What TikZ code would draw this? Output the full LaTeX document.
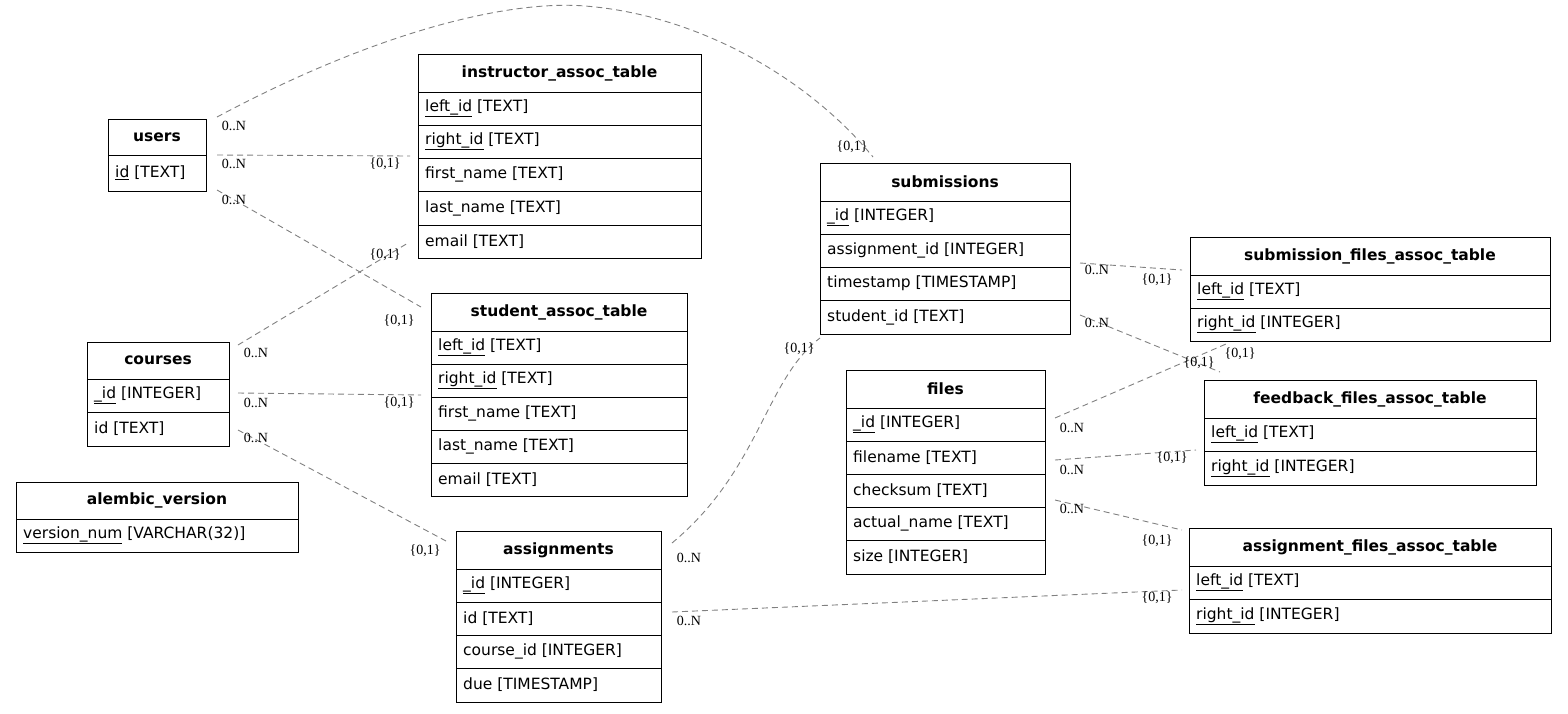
\documentclass[tikz,border=0pt]{standalone}
\usepackage{fontspec}
\setmainfont{DejaVu Sans}
\newfontfamily\lblfont{Liberation Serif}
\begin{document}
\begin{tikzpicture}[x=1pt,y=-1pt,
  cell/.style={draw,line width=1pt,inner sep=0pt,outer sep=0pt,font=\fontsize{15.5}{18}\selectfont},
  txt/.style={anchor=west,inner sep=0pt,font=\fontsize{15.5}{18}\selectfont},
  conn/.style={draw=gray,dashed,line width=0.9pt,dash pattern=on 6pt off 4pt},
  lbl/.style={inner sep=0pt,font=\lblfont\fontsize{14}{16}\selectfont}]
\useasboundingbox (0,0) rectangle (1568,713);
\newcommand\hdr[6]{\node[cell,minimum width={#4-#2},minimum height={#5-#3},anchor=north west] (#1) at (#2,#3) {\bfseries #6};}
\newcommand\rw[6]{\node[cell,minimum width={#4-#2},minimum height={#5-#3},anchor=north west] (#1) at (#2,#3) {}; \node[txt] (#1t) at ([xshift=7pt]#1.west) {#6};}
% users
\hdr{u}{108}{119}{206}{155}{users}
\rw{u1}{108}{155}{206}{191}{\underline{id} [TEXT]}
% instructor
\hdr{ia}{418}{54}{701}{92}{instructor\_assoc\_table}
\rw{ia1}{418}{92}{701}{125}{\underline{left\_id} [TEXT]}
\rw{ia2}{418}{125}{701}{158}{\underline{right\_id} [TEXT]}
\rw{ia3}{418}{158}{701}{191}{first\_name [TEXT]}
\rw{ia4}{418}{191}{701}{225}{last\_name [TEXT]}
\rw{ia5}{418}{225}{701}{258}{email [TEXT]}
% student
\hdr{sa}{431}{293}{687}{331}{student\_assoc\_table}
\rw{sa1}{431}{331}{687}{364}{\underline{left\_id} [TEXT]}
\rw{sa2}{431}{364}{687}{397}{\underline{right\_id} [TEXT]}
\rw{sa3}{431}{397}{687}{430}{first\_name [TEXT]}
\rw{sa4}{431}{430}{687}{463}{last\_name [TEXT]}
\rw{sa5}{431}{463}{687}{496}{email [TEXT]}
% courses
\hdr{c}{87}{342}{229}{379}{courses}
\rw{c1}{87}{379}{229}{412}{\underline{\_id} [INTEGER]}
\rw{c2}{87}{412}{229}{446}{id [TEXT]}
% alembic
\hdr{al}{16}{482}{298}{519}{alembic\_version}
\rw{al1}{16}{519}{298}{552}{\underline{version\_num} [VARCHAR(32)]}
% assignments
\hdr{as}{456}{531}{661}{569}{assignments}
\rw{as1}{456}{569}{661}{602}{\underline{\_id} [INTEGER]}
\rw{as2}{456}{602}{661}{635}{id [TEXT]}
\rw{as3}{456}{635}{661}{668}{course\_id [INTEGER]}
\rw{as4}{456}{668}{661}{702}{due [TIMESTAMP]}
% submissions
\hdr{s}{820}{163}{1070}{201}{submissions}
\rw{s1}{820}{201}{1070}{234}{\underline{\_id} [INTEGER]}
\rw{s2}{820}{234}{1070}{267}{assignment\_id [INTEGER]}
\rw{s3}{820}{267}{1070}{300}{timestamp [TIMESTAMP]}
\rw{s4}{820}{300}{1070}{334}{student\_id [TEXT]}
% files
\hdr{f}{846}{370}{1045}{408}{files}
\rw{f1}{846}{408}{1045}{441}{\underline{\_id} [INTEGER]}
\rw{f2}{846}{441}{1045}{474}{filename [TEXT]}
\rw{f3}{846}{474}{1045}{507}{checksum [TEXT]}
\rw{f4}{846}{507}{1045}{540}{actual\_name [TEXT]}
\rw{f5}{846}{540}{1045}{574}{size [INTEGER]}
% submission files
\hdr{sf}{1190}{237}{1550}{275}{submission\_files\_assoc\_table}
\rw{sf1}{1190}{275}{1550}{308}{\underline{left\_id} [TEXT]}
\rw{sf2}{1190}{308}{1550}{341}{\underline{right\_id} [INTEGER]}
% feedback files
\hdr{ff}{1204}{380}{1536}{418}{feedback\_files\_assoc\_table}
\rw{ff1}{1204}{418}{1536}{451}{\underline{left\_id} [TEXT]}
\rw{ff2}{1204}{451}{1536}{485}{\underline{right\_id} [INTEGER]}
% assignment files
\hdr{af}{1189}{528}{1551}{566}{assignment\_files\_assoc\_table}
\rw{af1}{1189}{566}{1551}{599}{\underline{left\_id} [TEXT]}
\rw{af2}{1189}{599}{1551}{633}{\underline{right\_id} [INTEGER]}

% connector endpoints
\coordinate (e1a) at (217,117); \coordinate (e1b) at (873,157);
\coordinate (e2a) at (217,155); \coordinate (e2b) at (410,156);
\coordinate (e3a) at (217,190); \coordinate (e3b) at (421,307);
\coordinate (e4a) at (238,345); \coordinate (e4b) at (408,243);
\coordinate (e5a) at (238,393); \coordinate (e5b) at (421,395);
\coordinate (e6a) at (238,430); \coordinate (e6b) at (446,541);
\coordinate (e7a) at (672,543); \coordinate (e7b) at (820,338);
\coordinate (e8a) at (672,612); \coordinate (e8b) at (1182,590);
\coordinate (e9a) at (1080,263); \coordinate (e9b) at (1182,270);
\coordinate (e10a) at (1080,315); \coordinate (e10b) at (1220,372);
\coordinate (e11a) at (1055,418); \coordinate (e11b) at (1226,344);
\coordinate (e12a) at (1055,460); \coordinate (e12b) at (1196,450);
\coordinate (e13a) at (1055,500); \coordinate (e13b) at (1182,530);

\draw[conn] (e1a) .. controls (380,30) and (510,0) .. (585,6) .. controls (700,15) and (810,80) .. (e1b);
\draw[conn] (e2a) -- (e2b);
\draw[conn] (e3a) -- (e3b);
\draw[conn] (e4a) -- (e4b);
\draw[conn] (e5a) -- (e5b);
\draw[conn] (e6a) -- (e6b);
\draw[conn] (e7a) .. controls (760,470) and (765,380) .. (e7b);
\draw[conn] (e8a) -- (e8b);
\draw[conn] (e9a) -- (e9b);
\draw[conn] (e10a) -- (e10b);
\draw[conn] (e11a) -- (e11b);
\draw[conn] (e12a) -- (e12b);
\draw[conn] (e13a) -- (e13b);

% labels
\node[lbl] (l1a) at (234,126) {0..N};  \node[lbl] (l1b) at (852,147) {\{0,1\}};
\node[lbl] (l2a) at (234,164) {0..N};  \node[lbl] (l2b) at (385,164) {\{0,1\}};
\node[lbl] (l3a) at (234,200) {0..N};  \node[lbl] (l3b) at (399,321) {\{0,1\}};
\node[lbl] (l4a) at (256,353) {0..N};  \node[lbl] (l4b) at (385,255) {\{0,1\}};
\node[lbl] (l5a) at (256,403) {0..N};  \node[lbl] (l5b) at (399,403) {\{0,1\}};
\node[lbl] (l6a) at (256,438) {0..N};  \node[lbl] (l6b) at (425,551) {\{0,1\}};
\node[lbl] (l7a) at (689,558) {0..N};  \node[lbl] (l7b) at (799,349) {\{0,1\}};
\node[lbl] (l8a) at (689,621) {0..N};  \node[lbl] (l8b) at (1157,598) {\{0,1\}};
\node[lbl] (l9a) at (1097,270) {0..N}; \node[lbl] (l9b) at (1157,280) {\{0,1\}};
\node[lbl] (l10a) at (1097,323) {0..N}; \node[lbl] (l10b) at (1199,363) {\{0,1\}};
\node[lbl] (l11a) at (1072,428) {0..N}; \node[lbl] (l11b) at (1240,354) {\{0,1\}};
\node[lbl] (l12a) at (1072,470) {0..N}; \node[lbl] (l12b) at (1172,458) {\{0,1\}};
\node[lbl] (l13a) at (1072,509) {0..N}; \node[lbl] (l13b) at (1157,541) {\{0,1\}};
\end{tikzpicture}
\end{document}
